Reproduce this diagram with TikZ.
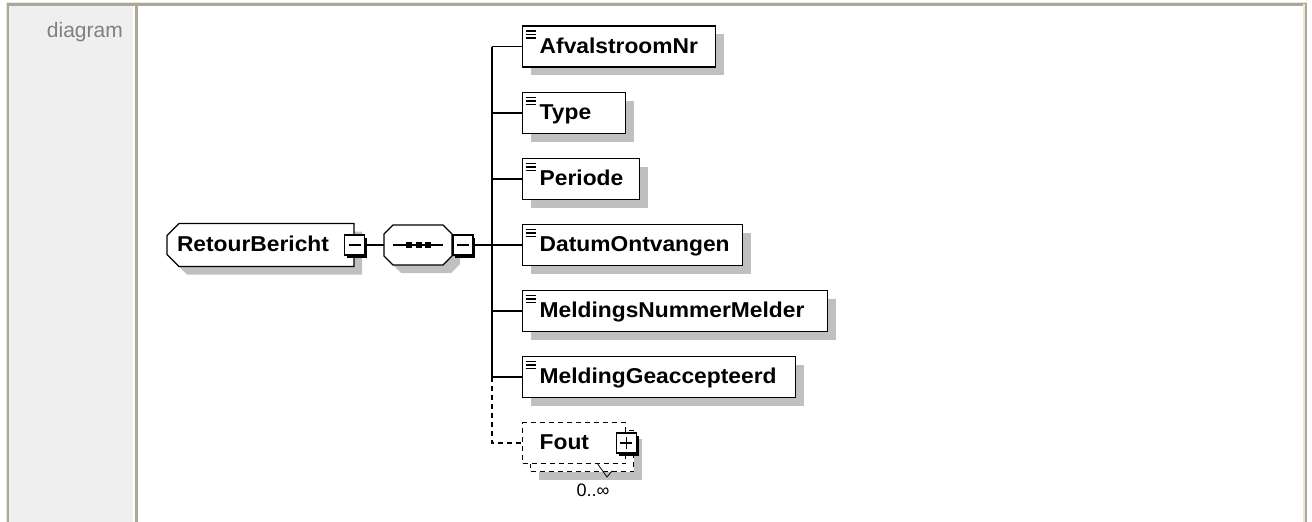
\documentclass[tikz,border=0pt]{standalone}
\usepackage{fontspec}
\setmainfont{Liberation Sans}
\newfontfamily\elemfont[FakeStretch=1.06]{Liberation Sans}
\usetikzlibrary{shapes.misc,shadows}

\definecolor{framedark}{RGB}{172,168,153}
\definecolor{framelight}{RGB}{236,233,216}
\definecolor{panelgrey}{RGB}{239,239,239}
\definecolor{shadowgrey}{RGB}{192,192,192}
\definecolor{labelgrey}{RGB}{128,128,128}

% outline of the sequence compositor, #1 = offset
\newcommand{\seqoutline}[1]{(393+#1,225+#1) -- (443+#1,225+#1) -- (452+#1,234+#1) -- (452+#1,256+#1) -- (443+#1,265+#1) -- (393+#1,265+#1) -- (384+#1,256+#1) -- (384+#1,234+#1) -- cycle}

\tikzset{
	greyshadow/.style={drop shadow={shadow xshift=8pt, shadow yshift=-8pt, fill=shadowgrey, opacity=1}},
	elemtext/.style={font=\elemfont\bfseries\fontsize{21.5}{25}\selectfont, execute at begin node={\hyphenpenalty=10000 }, text height=17pt, text depth=4pt},
	elemicon/.style={path picture={
		\foreach \d in {5,8.5,12}
			\draw[line width=1.5pt, solid] ([shift={(3pt,-\d pt)}]path picture bounding box.north west) -- ++(10pt,0pt);
	}},
	elem/.style={draw, line width=1.4pt, fill=white, anchor=west, minimum height=41pt, inner xsep=17pt, inner ysep=0pt, align=left, elemtext, greyshadow, elemicon},
	optelem/.style={draw, line width=1.4pt, fill=white, anchor=west, minimum height=41pt, inner xsep=17pt, inner ysep=0pt, align=left, elemtext, dash pattern=on 5pt off 4pt},
	rootbox/.style={chamfered rectangle, chamfered rectangle corners={north west,south west}, chamfered rectangle sep=6pt, draw, line width=1.4pt, fill=white, inner sep=0pt, align=left, elemtext, greyshadow},
	collapse/.style={draw, solid, fill=white, line width=1.3pt, minimum size=20pt, inner sep=0pt, drop shadow={shadow xshift=2.5pt, shadow yshift=-2.5pt, fill=black, opacity=1}},
	minusbox/.style={collapse, path picture={
		\draw[line width=1.3pt] ([xshift=-6pt]path picture bounding box.center) -- ([xshift=6pt]path picture bounding box.center);
	}},
	plusbox/.style={collapse, path picture={
		\draw[line width=1.3pt] ([xshift=-6pt]path picture bounding box.center) -- ([xshift=6pt]path picture bounding box.center)
			([yshift=-6pt]path picture bounding box.center) -- ([yshift=6pt]path picture bounding box.center);
	}},
	conn/.style={line width=1.3pt},
}

\begin{document}
\begin{tikzpicture}[x=1pt, y=-1pt]
		%%%%% START %%%%%
		\useasboundingbox (0,0) rectangle (1312,522);
		
		% frame of the table cell
		\fill[panelgrey] (9,6) rectangle (133,522);
		\draw[framelight, line width=1.6pt] (6,2.5) -- (1307,2.5);
		\draw[framedark, line width=2.4pt] (7,4.5) -- (1307,4.5);
		\draw[framelight, line width=1.4pt] (6.5,3) -- (6.5,522);
		\draw[framedark, line width=1.6pt] (8.2,4) -- (8.2,522);
		\draw[framedark, line width=2.6pt] (136.5,4) -- (136.5,522);
		\draw[framelight, line width=1.4pt] (1303.8,4) -- (1303.8,522);
		\draw[framedark, line width=2pt] (1306,4) -- (1306,522);
		
		\node[anchor=base east, inner sep=0pt, text=labelgrey, font=\fontsize{21}{25}\selectfont] (lbl) at (123,37) {diagram};
		
		% root element and sequence
		\node[rootbox, minimum width=187pt, minimum height=43pt, text width=167pt] (retour) at (260.5,245) {RetourBericht};
		\node[minusbox] (retourminus) at (retour.east) {};
		
		\fill[shadowgrey] \seqoutline{8};
		\draw[line width=1.4pt, fill=white] \seqoutline{0};
		\node[minimum width=68pt, minimum height=40pt, inner sep=0pt] (seq) at (418,245) {};
		\draw[line width=1.3pt] ([xshift=-25pt]seq.center) -- ([xshift=25pt]seq.center);
		\foreach \dx in {-9,1,10}
			\fill ([xshift=\dx pt]seq.center) +(-3,-3) rectangle +(3,3);
		\node[minusbox, anchor=west] (seqminus) at (seq.east) {};
		
		\draw[conn] (retourminus) -- (seq);
		\coordinate (bus) at (492,245);
		\draw[conn] (seqminus.east) -- (bus|-seqminus.east);
		
		% children
		\node[elem, text width=159pt] (afval) at (522,46.5) {AfvalstroomNr};
		\node[elem, text width=69pt] (type) at (522,113) {Type};
		\node[elem, text width=83pt] (periode) at (522,179) {Periode};
		\node[elem, text width=186pt] (datum) at (522,245) {DatumOntvangen};
		\node[elem, text width=271pt] (nummer) at (522,311) {MeldingsNummerMelder};
		\node[elem, text width=239pt] (geacc) at (522,377) {MeldingGeaccepteerd};
		
		\node[optelem, greyshadow, text width=69pt] (foutback) at (530,451) {};
		\node[optelem, text width=69pt] (fout) at (522,443) {Fout};
		\node[plusbox] (foutplus) at (fout.east) {};
		\node[inner sep=0pt, font=\fontsize{18}{20}\selectfont] (mult) at (593,490) {0..∞};
		\draw[line width=0.8pt] (597,463) -- (607,477) -- (612,471);
		
		\draw[conn] (bus|-afval.west) -- (bus|-geacc.west);
		\foreach \n in {afval,type,periode,datum,nummer,geacc}
			\draw[conn] (bus|-\n.west) -- (\n.west);
		\draw[conn, dash pattern=on 5pt off 4pt] (bus|-geacc.west) |- (fout.west);
		
		%%%%% END %%%%%
\end{tikzpicture}
\end{document}
